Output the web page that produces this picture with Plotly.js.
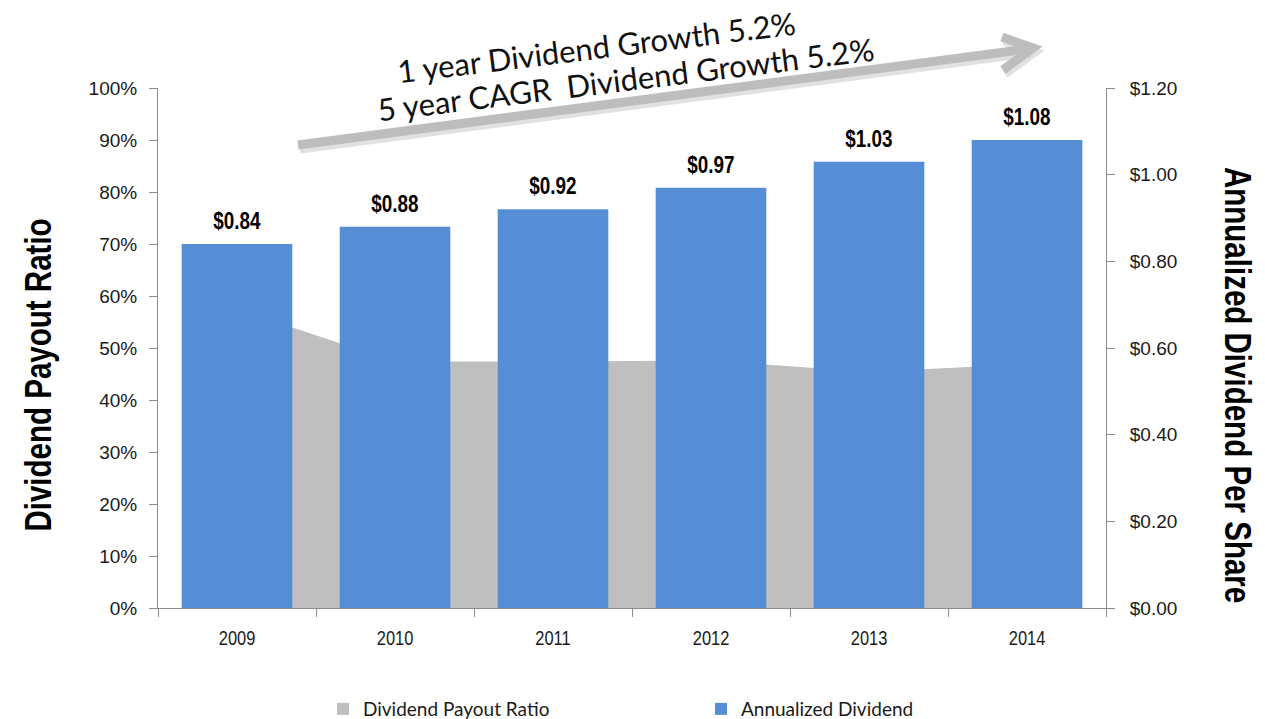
<!DOCTYPE html>
<html>
<head>
<meta charset="utf-8">
<script src="https://cdn.plot.ly/plotly-3.0.1.min.js"></script>
<style>
  html, body { margin: 0; padding: 0; background: #ffffff; }
  #chart { width: 1265px; height: 719px; }
</style>
</head>
<body>
<div id="chart"></div>
<script>
// ---- Data ----
const years = ['2009', '2010', '2011', '2012', '2013', '2014'];
const payoutRatio = [0.575, 0.474, 0.474, 0.476, 0.454, 0.469];
const annualDividend = [0.84, 0.88, 0.92, 0.97, 1.03, 1.08];
const seriesNames = ['Dividend Payout Ratio', 'Annualized Dividend'];
const leftTitle = 'Dividend Payout Ratio';
const rightTitle = 'Annualized Dividend Per Share';
const noteLine1 = '1 year Dividend Growth 5.2%';
const noteLine2 = '5 year CAGR  Dividend Growth 5.2%';

// ---- Styles ----
const ARIAL = "'Liberation Sans', Arial, sans-serif";
const CALIBRI = "Lato, 'Open Sans', sans-serif";
const GRAY = '#bfbfbf';
const BLUE = '#558ed5';
const AXIS = '#8c8c8c';
const NARROW_FACTOR = 0.82; // emulate Arial Narrow by condensing Liberation Sans

const traces = [
  {
    type: 'scatter',
    x: years,
    y: payoutRatio,
    yaxis: 'y',
    mode: 'none',
    fill: 'tozeroy',
    fillcolor: GRAY,
    name: seriesNames[0],
    showlegend: false,
    hoverinfo: 'skip'
  },
  {
    type: 'bar',
    x: years,
    y: annualDividend,
    yaxis: 'y2',
    marker: { color: BLUE },
    name: seriesNames[1],
    showlegend: false,
    hoverinfo: 'skip'
  },
  // legend entries (square swatches)
  {
    type: 'bar', x: [null], y: [null], name: seriesNames[0],
    marker: { color: GRAY }, showlegend: true, hoverinfo: 'skip'
  },
  {
    type: 'bar', x: [null], y: [null], name: seriesNames[1], yaxis: 'y2',
    marker: { color: BLUE }, showlegend: true, hoverinfo: 'skip'
  }
];

// pixel -> paper helpers (plot area 158..1106 x, 88..608 y)
const L = 158, R = 1106, T = 88, B = 608;
const px = v => (v - L) / (R - L);
const py = v => (B - v) / (B - T);

// value labels above the bars, anchored to the data (category index on x)
const valueLabels = years.map((yr, i) => ({
  xref: 'x', yref: 'y2', x: i, y: annualDividend[i],
  text: '$' + annualDividend[i].toFixed(2),
  showarrow: false, xanchor: 'center', yanchor: 'bottom', yshift: 8,
  font: { family: ARIAL, size: 23, color: '#000000', weight: 'bold' },
  name: 'valuelabel'
}));

const layout = {
  width: 1265,
  height: 719,
  margin: { l: L, r: 1265 - R, t: T, b: 719 - B, pad: 0, autoexpand: false },
  paper_bgcolor: '#ffffff',
  plot_bgcolor: '#ffffff',
  showlegend: true,
  bargap: 0.30,
  font: { family: ARIAL, size: 19, color: '#1a1a1a' },
  xaxis: {
    type: 'category',
    range: [-0.5, 5.5],
    tickson: 'boundaries',
    ticks: 'outside',
    ticklen: 8,
    tickcolor: AXIS,
    showline: true,
    linecolor: AXIS,
    linewidth: 1,
    showgrid: false,
    zeroline: false,
    tickfont: { family: ARIAL, size: 20, color: '#1a1a1a' },
    ticklabelstandoff: 12,
    automargin: false,
    fixedrange: true
  },
  xaxis2: {
    overlaying: 'x',
    anchor: 'y',
    range: [-0.5, 5.5],
    tickvals: [-0.5, 0.5, 1.5, 2.5, 3.5, 4.5, 5.5],
    ticks: 'inside',
    ticklen: 8,
    tickcolor: AXIS,
    showticklabels: false,
    showline: false,
    showgrid: false,
    zeroline: false,
    automargin: false
  },
  yaxis: {
    range: [0, 1],
    dtick: 0.1,
    tickformat: '.0%',
    ticks: 'outside',
    ticklen: 8,
    tickcolor: AXIS,
    showline: true,
    linecolor: AXIS,
    showgrid: false,
    zeroline: false,
    tickfont: { family: ARIAL, size: 19, color: '#1a1a1a' },
    ticklabelstandoff: 8,
    automargin: false,
    fixedrange: true
  },
  yaxis2: {
    overlaying: 'y',
    side: 'right',
    anchor: 'x',
    range: [0, 1.2],
    dtick: 0.2,
    tickformat: '$.2f',
    ticks: 'outside',
    ticklen: 8,
    tickcolor: AXIS,
    showline: true,
    linecolor: AXIS,
    showgrid: false,
    zeroline: false,
    tickfont: { family: ARIAL, size: 19, color: '#1a1a1a' },
    ticklabelstandoff: 11,
    automargin: false,
    fixedrange: true
  },
  yaxis3: {
    overlaying: 'y',
    side: 'left',
    anchor: 'x',
    range: [0, 1],
    dtick: 0.1,
    ticks: 'inside',
    ticklen: 8,
    tickcolor: AXIS,
    showticklabels: false,
    showline: false,
    showgrid: false,
    zeroline: false,
    automargin: false
  },
  yaxis4: {
    overlaying: 'y',
    side: 'right',
    anchor: 'x',
    range: [0, 1.2],
    dtick: 0.2,
    ticks: 'inside',
    ticklen: 8,
    tickcolor: AXIS,
    showticklabels: false,
    showline: false,
    showgrid: false,
    zeroline: false,
    automargin: false
  },
  legend: {
    orientation: 'h',
    x: px(323),
    xanchor: 'left',
    y: py(709),
    yanchor: 'middle',
    entrywidth: 333,
    entrywidthmode: 'pixels',
    font: { family: CALIBRI, size: 19, color: '#1a1a1a' },
    bgcolor: 'rgba(0,0,0,0)',
    traceorder: 'normal'
  },
  annotations: [
    {
      xref: 'paper', yref: 'paper', x: px(38), y: py(375),
      text: leftTitle, textangle: -90, showarrow: false,
      font: { family: ARIAL, size: 36, color: '#000000', weight: 'bold' },
      xanchor: 'center', yanchor: 'middle', name: 'narrow'
    },
    {
      xref: 'paper', yref: 'paper', x: px(1238), y: py(385),
      text: rightTitle, textangle: 90, showarrow: false,
      font: { family: ARIAL, size: 36, color: '#000000', weight: 'bold' },
      xanchor: 'center', yanchor: 'middle', name: 'narrow'
    },
    {
      xref: 'paper', yref: 'paper', x: px(596), y: py(47),
      text: noteLine1, textangle: -7, showarrow: false,
      font: { family: CALIBRI, size: 31, color: '#111111' },
      xanchor: 'center', yanchor: 'middle'
    },
    {
      xref: 'paper', yref: 'paper', x: px(626), y: py(79),
      text: noteLine2, textangle: -7, showarrow: false,
      font: { family: CALIBRI, size: 31, color: '#111111' },
      xanchor: 'center', yanchor: 'middle'
    }
  ].concat(valueLabels),
  shapes: [
    // arrow shadow
    {
      type: 'path', xref: 'paper', yref: 'paper', layer: 'above',
      path: 'M' + px(300) + ',' + py(149) + ' L' + px(1030) + ',' + py(53),
      line: { color: 'rgba(120,120,120,0.22)', width: 9 }
    },
    {
      type: 'path', xref: 'paper', yref: 'paper', layer: 'above',
      path: 'M' + px(1004) + ',' + py(41) + ' L' + px(1035) + ',' + py(52) + ' L' + px(1005) + ',' + py(74),
      line: { color: 'rgba(120,120,120,0.22)', width: 9 }
    },
    // arrow shaft
    {
      type: 'path', xref: 'paper', yref: 'paper', layer: 'above',
      path: 'M' + px(298) + ',' + py(145) + ' L' + px(1028) + ',' + py(49),
      line: { color: '#bdbdbd', width: 9 }
    },
    // arrow head
    {
      type: 'path', xref: 'paper', yref: 'paper', layer: 'above',
      path: 'M' + px(1002) + ',' + py(37) + ' L' + px(1033) + ',' + py(48) + ' L' + px(1003) + ',' + py(70),
      line: { color: '#bdbdbd', width: 9 }
    }
  ]
};

function condense(el, f) {
  if (!el || el.getAttribute('textLength')) return;
  const w = el.getComputedTextLength();
  if (w > 0) {
    el.setAttribute('textLength', (w * f).toFixed(2));
    el.setAttribute('lengthAdjust', 'spacingAndGlyphs');
  }
}

Plotly.newPlot('chart', traces, layout, { displayModeBar: false, staticPlot: true }).then(gd => {
  gd.querySelectorAll('.xaxislayer-above .xtick text').forEach(t => condense(t, NARROW_FACTOR));
  const anns = gd.layout.annotations;
  gd.querySelectorAll('g.annotation').forEach(g => {
    const idx = +g.getAttribute('data-index');
    const a = anns[idx];
    if (a && (a.name === 'narrow' || a.name === 'valuelabel')) {
      g.querySelectorAll('text.annotation-text').forEach(t => condense(t, NARROW_FACTOR));
    }
  });
});
</script>
</body>
</html>
